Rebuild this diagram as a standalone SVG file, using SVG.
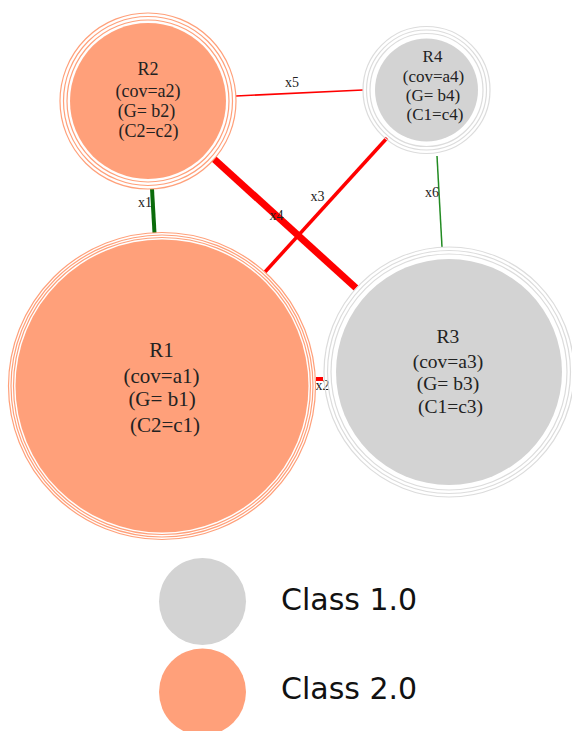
<svg xmlns="http://www.w3.org/2000/svg" width="572" height="731" viewBox="0 0 572 731">
<style>
.bg{fill:#fff}
.fs{fill:#FFA07A}
.fg{fill:#D3D3D3}
.rs{fill:none;stroke:#FFA07A;stroke-width:1.2}
.rg{fill:none;stroke:#DCDCDC;stroke-width:1.2}
.nt{font-family:"Liberation Serif","Times New Roman",serif;fill:#222;text-anchor:middle}
.el{font-family:"Liberation Serif","Times New Roman",serif;fill:#222;font-size:14px;text-anchor:middle}
.lg{font-family:"DejaVu Sans",sans-serif;font-size:30px;fill:#111}
</style>
<rect class="bg" x="0" y="0" width="572" height="731"/>
<g id="connectors" stroke-linecap="butt">
  <line id="e-x1" x1="152" y1="189" x2="154.5" y2="233" stroke="#0B6B0B" stroke-width="4"/>
  <line id="e-x2" x1="316" y1="379" x2="323" y2="379" stroke="#FF0000" stroke-width="4"/>
  <line id="e-x3" x1="265" y1="272" x2="387" y2="138" stroke="#FF0000" stroke-width="3.5"/>
  <line id="e-x4" x1="214" y1="159" x2="356" y2="288" stroke="#FF0000" stroke-width="7"/>
  <line id="e-x5" x1="236" y1="96" x2="363" y2="90" stroke="#FF0000" stroke-width="1.6"/>
  <line id="e-x6" x1="437" y1="156" x2="442" y2="247" stroke="#228B22" stroke-width="1.5"/>
  <text class="el" x="145" y="207">x1</text>
  <text class="el" x="322.5" y="390">x2</text>
  <text class="el" x="317.5" y="201">x3</text>
  <text class="el" x="276.5" y="220">x4</text>
  <text class="el" x="292" y="87">x5</text>
  <text class="el" x="432" y="197">x6</text>
</g>
<g id="R1">
  <circle class="rs" cx="162" cy="386" r="153.5"/>
  <circle class="rs" cx="162" cy="386" r="151"/>
  <circle class="rs" cx="162" cy="386" r="148.5"/>
  <circle class="fs" cx="162" cy="386" r="146.5"/>
  <text class="nt" font-size="21" x="161.5" y="357">R1</text>
  <text class="nt" font-size="21" x="161.5" y="383">(cov=a1)</text>
  <text class="nt" font-size="21" x="162" y="406">(G= b1)</text>
  <text class="nt" font-size="21" x="165" y="432">(C2=c1)</text>
</g>
<g id="R2">
  <circle class="rs" cx="148" cy="101" r="88"/>
  <circle class="rs" cx="148" cy="101" r="84.5"/>
  <circle class="rs" cx="148" cy="101" r="81"/>
  <circle class="fs" cx="148" cy="101" r="78"/>
  <text class="nt" font-size="18" x="148" y="75">R2</text>
  <text class="nt" font-size="18" x="148" y="97">(cov=a2)</text>
  <text class="nt" font-size="18" x="146.5" y="117">(G= b2)</text>
  <text class="nt" font-size="18" x="148.5" y="137">(C2=c2)</text>
</g>
<g id="R3">
  <circle class="rg" cx="449" cy="372" r="125"/>
  <circle class="rg" cx="449" cy="372" r="121.5"/>
  <circle class="rg" cx="449" cy="372" r="118"/>
  <circle class="fg" cx="449" cy="372" r="113"/>
  <text class="nt" font-size="19.5" x="448" y="343">R3</text>
  <text class="nt" font-size="19.5" x="448" y="368">(cov=a3)</text>
  <text class="nt" font-size="19.5" x="448" y="390">(G= b3)</text>
  <text class="nt" font-size="19.5" x="450.5" y="413">(C1=c3)</text>
</g>
<g id="R4">
  <circle class="rg" cx="426.5" cy="90" r="63.5"/>
  <circle class="rg" cx="426.5" cy="90" r="60"/>
  <circle class="rg" cx="426.5" cy="90" r="56.5"/>
  <circle class="fg" cx="426.5" cy="90" r="51.5"/>
  <text class="nt" font-size="17" x="432.5" y="62">R4</text>
  <text class="nt" font-size="17" x="433.5" y="82">(cov=a4)</text>
  <text class="nt" font-size="17" x="433" y="101">(G= b4)</text>
  <text class="nt" font-size="17" x="435" y="120">(C1=c4)</text>
</g>
<g id="legend">
  <circle class="fg" cx="202.5" cy="601.5" r="43.5"/>
  <circle class="fs" cx="202.5" cy="692" r="43.5"/>
  <text class="lg" x="281" y="610">Class 1.0</text>
  <text class="lg" x="281" y="699">Class 2.0</text>
</g>
</svg>
